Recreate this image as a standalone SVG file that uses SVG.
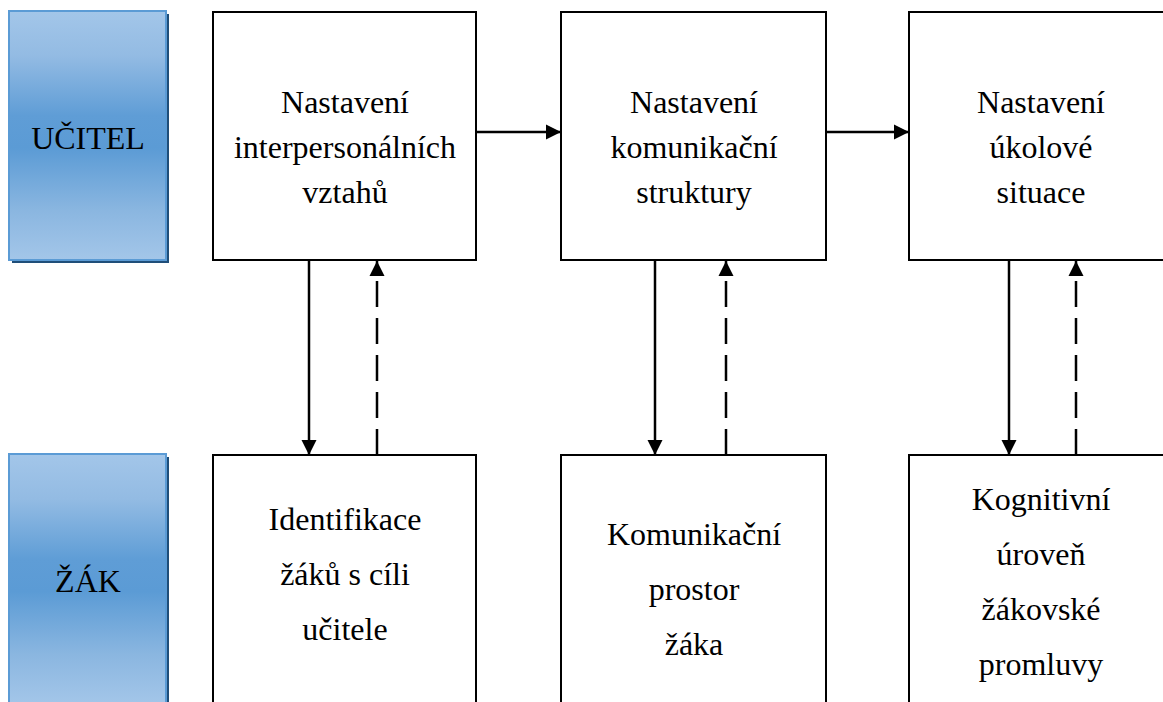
<svg xmlns="http://www.w3.org/2000/svg" width="1163" height="702" viewBox="0 0 1163 702">
<defs>
<linearGradient id="blue" x1="0" y1="0" x2="0" y2="1">
<stop offset="0" stop-color="#a3c6e9"/>
<stop offset="0.18" stop-color="#93bbe3"/>
<stop offset="0.42" stop-color="#5f9dd6"/>
<stop offset="0.55" stop-color="#5b9bd5"/>
<stop offset="0.8" stop-color="#8ab6e0"/>
<stop offset="1" stop-color="#a3c6e9"/>
</linearGradient>
<marker id="ah" markerUnits="userSpaceOnUse" markerWidth="16" markerHeight="16" viewBox="0 0 16 16" refX="15" refY="8" orient="auto">
<path d="M0,0.5 L15,8 L0,15.5 Z" fill="#000"/>
</marker>
</defs>
<style>
.box{fill:#fff;stroke:#000;stroke-width:2}
.side{fill:url(#blue);stroke:#5b9bd5;stroke-width:2}
.shadow{fill:#1f4e79}
.t{font-size:32px;fill:#000;text-anchor:middle}
.c{stroke:#000;stroke-width:2.5;fill:none;marker-end:url(#ah)}
.d{stroke-dasharray:26 11}
</style>
<rect width="1163" height="702" fill="#fff"/>
<g font-family="'Liberation Serif', 'DejaVu Serif', serif">
<g id="ucitel">
<rect class="shadow" x="12" y="14" width="157" height="249"/>
<rect class="side" x="9" y="11" width="157" height="249"/>
<text class="t" x="88" y="149">UČITEL</text>
</g>
<g id="zak">
<rect class="shadow" x="12" y="457" width="157" height="249"/>
<rect class="side" x="9" y="454" width="157" height="250"/>
<text class="t" x="88" y="592">ŽÁK</text>
</g>
<g id="n1">
<rect class="box" x="213" y="12" width="263" height="248"/>
<text class="t"><tspan x="345" y="113">Nastavení</tspan><tspan x="345" y="158">interpersonálních</tspan><tspan x="345" y="203">vztahů</tspan></text>
</g>
<g id="n2">
<rect class="box" x="561" y="12" width="265" height="248"/>
<text class="t"><tspan x="694" y="113">Nastavení</tspan><tspan x="694" y="158">komunikační</tspan><tspan x="694" y="203">struktury</tspan></text>
</g>
<g id="n3">
<rect class="box" x="909" y="12" width="265" height="248"/>
<text class="t"><tspan x="1041" y="113">Nastavení</tspan><tspan x="1041" y="158">úkolové</tspan><tspan x="1041" y="203">situace</tspan></text>
</g>
<g id="z1">
<rect class="box" x="213" y="455" width="263" height="260"/>
<text class="t"><tspan x="345" y="530">Identifikace</tspan><tspan x="345" y="585">žáků s cíli</tspan><tspan x="345" y="640">učitele</tspan></text>
</g>
<g id="z2">
<rect class="box" x="561" y="455" width="265" height="260"/>
<text class="t"><tspan x="694" y="545">Komunikační</tspan><tspan x="694" y="600">prostor</tspan><tspan x="694" y="655">žáka</tspan></text>
</g>
<g id="z3">
<rect class="box" x="909" y="455" width="265" height="260"/>
<text class="t"><tspan x="1041" y="510">Kognitivní</tspan><tspan x="1041" y="565">úroveň</tspan><tspan x="1041" y="620">žákovské</tspan><tspan x="1041" y="675">promluvy</tspan></text>
</g>
</g>
<g id="connectors">
<path class="c" d="M476,132 L561,132"/>
<path class="c" d="M826,132 L909,132"/>
<path class="c" d="M309,260 L309,455"/>
<path class="c d" d="M377,455 L377,261"/>
<path class="c" d="M655,260 L655,455"/>
<path class="c d" d="M726,455 L726,261"/>
<path class="c" d="M1009,260 L1009,455"/>
<path class="c d" d="M1076,455 L1076,261"/>
</g>
</svg>
